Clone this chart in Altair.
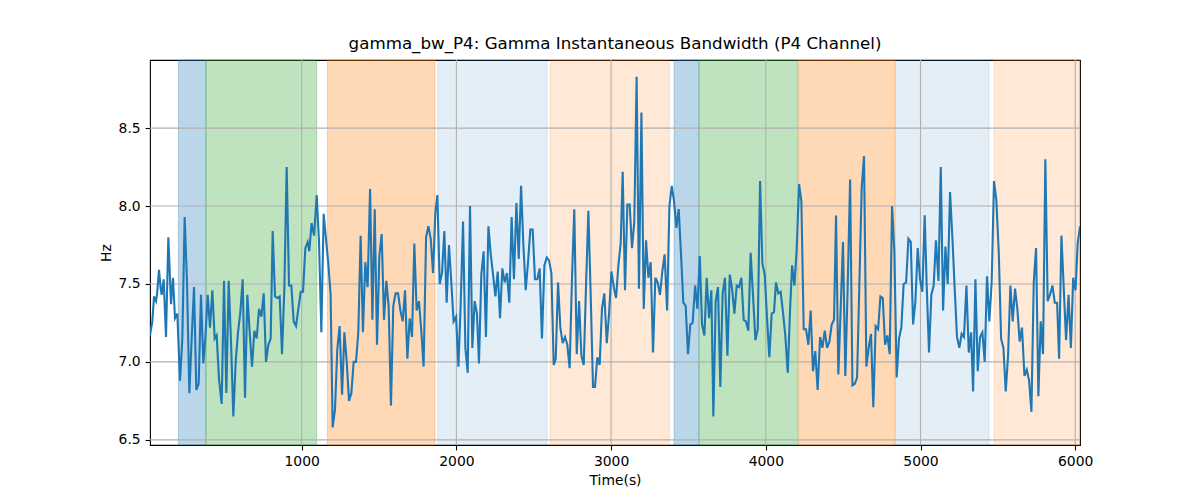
import altair as alt
import pandas as pd

times = [19.4, 34.5, 45.3, 58.2, 64.7, 77.6, 88.4, 94.8, 107.8, 122.8, 137.9, 155.2, 168.1, 181.0, 196.1,
         213.3, 228.4, 243.5, 258.6, 273.7, 288.8, 303.9, 318.9, 334.0, 349.1, 364.2, 377.1, 392.2, 407.3,
         422.4, 437.5, 450.4, 465.5, 482.7, 497.8, 512.9, 528.0, 543.1, 558.1, 573.2, 588.3, 603.4, 618.5,
         633.6, 648.7, 663.7, 678.8, 693.9, 709.0, 724.1, 739.2, 754.3, 769.3, 784.4, 799.5, 812.4, 827.5,
         842.6, 857.7, 872.8, 887.9, 902.9, 918.0, 933.1, 948.2, 963.3, 978.4, 993.5, 1008.5, 1023.6, 1038.7,
         1049, 1064, 1080, 1097, 1112, 1127, 1142, 1157, 1172, 1187, 1200, 1215, 1230, 1245, 1261, 1276, 1291,
         1306, 1321, 1336, 1351, 1366, 1381, 1396, 1411, 1426, 1442, 1457, 1472, 1487, 1502, 1517, 1532, 1547,
         1562, 1577, 1592, 1607, 1623, 1638, 1653, 1668, 1683, 1698, 1713, 1728, 1743, 1758, 1773, 1788, 1804,
         1819, 1834, 1849, 1864, 1877, 1892, 1907, 1922, 1937, 1952, 1967, 1982, 1998, 2013, 2028, 2043,
         2058, 2073, 2088, 2103, 2118, 2133, 2146, 2161, 2176, 2191, 2207, 2222, 2237, 2252, 2267, 2282, 2297,
         2312, 2327, 2342, 2357, 2372, 2388, 2403, 2418, 2433, 2448, 2463, 2478, 2493, 2508, 2523, 2538, 2553,
         2569, 2584, 2599, 2614, 2629, 2642, 2657, 2672, 2687, 2702, 2717, 2732, 2747, 2762, 2778, 2793, 2808,
         2823, 2838, 2853, 2868, 2883, 2896, 2911, 2926, 2941, 2956, 2972, 2987, 3002,
         3019, 3032, 3047, 3062, 3075, 3090, 3105, 3120, 3135, 3150, 3165, 3180, 3196, 3211, 3226, 3241, 3256,
         3271, 3286, 3301, 3316, 3331, 3346, 3362, 3377, 3392, 3407, 3422, 3437, 3452, 3467, 3482, 3497, 3512,
         3527, 3543, 3558, 3573, 3588, 3603, 3618, 3633, 3648, 3661, 3676, 3691, 3706, 3721, 3736, 3752, 3767,
         3782, 3797, 3812, 3827, 3842, 3857, 3872, 3887, 3902, 3917, 3933, 3948, 3963, 3978, 3993, 4008, 4023,
         4038, 4053,
         4066, 4081, 4096, 4111, 4126, 4142, 4157, 4170, 4185, 4200, 4215, 4230, 4245, 4260, 4275, 4290, 4305,
         4320, 4335, 4351, 4366, 4381, 4396, 4411, 4426, 4441, 4454, 4469, 4484, 4499, 4514, 4529, 4545, 4560,
         4575, 4590, 4605, 4620, 4635, 4650, 4665, 4680, 4695, 4710, 4726, 4741, 4756, 4771, 4786, 4801, 4816,
         4831, 4846, 4861, 4876, 4891, 4907, 4922, 4937, 4952, 4967, 4982, 4997, 5012, 5027,
         5040, 5055, 5070, 5085, 5100, 5116, 5131, 5146, 5161, 5176, 5191, 5206, 5221, 5236, 5251, 5266, 5281,
         5297, 5312, 5327, 5340, 5355, 5370, 5385, 5400, 5415, 5430, 5445, 5460, 5475, 5490, 5506, 5521, 5536,
         5551, 5566, 5581, 5596, 5611, 5626, 5641, 5656, 5672, 5687, 5702, 5717, 5732, 5747, 5762, 5777, 5792,
         5807, 5822, 5837, 5853, 5868, 5883, 5896, 5911, 5926, 5941, 5957, 5972, 5987, 6002, 6016, 6031]

values = [7.17, 7.26, 7.42, 7.39, 7.43, 7.59, 7.47, 7.43, 7.53, 7.16, 7.80, 7.37, 7.54, 7.28, 7.31,
          6.88, 7.15, 7.93, 7.51, 6.80, 7.15, 7.48, 6.82, 6.86, 7.43, 6.99, 7.15, 7.43, 7.22,
          7.46, 7.15, 7.17, 6.89, 6.73, 7.52, 6.80, 7.52, 7.13, 6.65, 7.00, 7.19, 7.32, 7.53,
          6.77, 7.43, 7.19, 6.97, 7.20, 7.15, 7.34, 7.29, 7.44, 7.00, 7.11, 7.15, 7.84, 7.42,
          7.41, 7.42, 7.05, 7.47, 8.25, 7.49, 7.49, 7.26, 7.23, 7.34, 7.45, 7.45, 7.73, 7.77,
          7.71, 7.89, 7.81, 8.07, 7.77, 7.19, 7.95, 7.79, 7.63, 7.43, 6.58, 6.69, 7.08, 7.23, 6.79, 7.19, 7.00,
          6.75, 6.80, 7.00, 7.00, 7.19, 7.81, 7.19, 7.64, 7.48, 8.11, 7.27, 7.98, 7.11, 7.68, 7.82, 7.27, 7.52,
          7.36, 6.72, 7.36, 7.44, 7.44, 7.33, 7.26, 7.46, 7.02, 7.28, 7.16, 7.76, 7.33, 7.39, 7.20, 6.97, 7.80,
          7.87, 7.79, 7.57, 7.96, 8.07, 7.50, 7.57, 7.84, 7.38, 7.75, 7.51, 7.26, 7.29, 6.97, 7.38, 7.90,
          7.09, 6.93, 8.00, 7.09, 7.39, 7.31, 6.99, 7.56, 7.71, 7.16, 7.87, 7.69, 7.56, 7.42, 7.58, 7.28, 7.60,
          7.51, 7.57, 7.38, 7.93, 7.53, 8.02, 7.66, 8.13, 7.75, 7.46, 7.64, 7.85, 7.85, 7.53, 7.53, 7.60, 7.15,
          7.62, 7.67, 7.65, 7.57, 6.98, 7.02, 7.51, 7.22, 7.12, 7.16, 7.11, 6.96, 7.53, 7.98, 7.05, 7.39, 7.04,
          6.98, 7.49, 7.97, 7.43, 6.84, 6.84, 7.03, 6.98, 7.34, 7.44, 7.12, 7.31, 7.58,
          7.47, 7.41, 7.62, 7.76, 8.22, 7.46, 8.01, 8.01, 7.73, 7.90, 8.83, 7.47, 8.60, 7.34, 7.78, 7.54, 7.64,
          7.06, 7.54, 7.51, 7.43, 7.58, 7.69, 7.33, 8.00, 8.13, 8.03, 7.86, 7.98, 7.69, 7.38, 7.36, 7.05, 7.24,
          7.25, 7.49, 7.34, 7.68, 7.24, 7.17, 7.54, 7.28, 7.46, 6.65, 7.39, 7.48, 6.84, 7.44, 7.54, 7.04, 7.56,
          7.47, 7.31, 7.49, 7.48, 7.54, 7.27, 7.26, 7.20, 7.70, 7.43, 7.14, 7.21, 8.16, 7.63, 7.56, 7.28, 7.03,
          7.31, 7.32,
          7.51, 7.44, 7.45, 7.32, 7.17, 6.93, 7.34, 7.62, 7.49, 7.73, 8.14, 8.03, 7.21, 7.21, 7.11, 7.33, 6.94,
          7.07, 6.82, 7.16, 7.09, 7.20, 7.09, 7.13, 7.24, 7.27, 7.94, 6.92, 7.34, 7.77, 6.91, 7.47, 8.17, 6.85,
          6.86, 6.90, 7.51, 8.12, 8.32, 6.97, 7.09, 7.18, 6.71, 7.23, 7.21, 7.42, 7.41, 7.11, 7.17, 7.05, 8.00,
          7.71, 6.90, 7.15, 7.22, 7.50, 7.51, 7.79, 7.77, 7.24, 7.39, 7.73, 7.53, 7.45, 7.94,
          7.49, 7.06, 7.43, 7.49, 7.78, 7.52, 8.25, 7.33, 7.74, 7.50, 8.09, 7.80, 7.47, 7.16, 7.09, 7.18, 7.16,
          7.49, 7.06, 7.19, 6.81, 7.53, 6.94, 7.16, 7.19, 7.00, 7.55, 7.26, 7.51, 8.16, 8.04, 7.70, 7.15, 7.09,
          6.81, 7.04, 7.49, 7.26, 7.47, 7.34, 7.13, 7.22, 6.91, 6.95, 6.88, 6.68, 7.51, 7.73, 6.78, 7.26, 7.05,
          8.30, 7.39, 7.43, 7.49, 7.38, 7.38, 7.02, 7.81, 7.47, 7.14, 7.43, 7.09, 7.54, 7.46, 7.76, 7.87]

span_start = [203, 381, 1166, 1879, 2605, 3407, 3568, 4213, 4838, 5475]
span_end = [381, 1097, 1862, 2586, 3377, 3568, 4208, 4835, 5443, 6031]
span_color = ["#1f77b4", "#2ca02c", "#ff7f0e", "#1f77b4", "#ff7f0e",
              "#1f77b4", "#2ca02c", "#ff7f0e", "#1f77b4", "#ff7f0e"]
span_alpha = [0.3, 0.3, 0.3, 0.12, 0.17, 0.3, 0.3, 0.3, 0.12, 0.17]

x_ticks = [1000, 2000, 3000, 4000, 5000, 6000]
y_ticks = [6.5, 7.0, 7.5, 8.0, 8.5]

x_domain = [19.4, 6031]
y_domain = [6.467, 8.937]

n = min(len(times), len(values))
line_df = pd.DataFrame({"t": times[:n], "v": values[:n]})
span_df = pd.DataFrame({"start": span_start, "end": span_end, "color": span_color, "alpha": span_alpha})
xt_df = pd.DataFrame({"xt": x_ticks})
yt_df = pd.DataFrame({"yt": y_ticks})

xs = alt.Scale(domain=x_domain, nice=False, zero=False)
ys = alt.Scale(domain=y_domain, nice=False, zero=False)
xax = alt.Axis(values=x_ticks, format="d", grid=False)
yax = alt.Axis(values=y_ticks, format=".1f", grid=False)

spans = alt.Chart(span_df).mark_rect(strokeWidth=1).encode(
    x=alt.X("start:Q", scale=xs, axis=xax, title="Time(s)"),
    x2="end:Q",
    fill=alt.Fill("color:N", scale=None),
    stroke=alt.Stroke("color:N", scale=None),
    fillOpacity=alt.FillOpacity("alpha:Q", scale=None),
    strokeOpacity=alt.StrokeOpacity("alpha:Q", scale=None),
)

xgrid = alt.Chart(xt_df).mark_rule(color="#b0b0b0", strokeWidth=1.1).encode(
    x=alt.X("xt:Q", scale=xs, axis=xax, title="Time(s)")
)
ygrid = alt.Chart(yt_df).mark_rule(color="#b0b0b0", strokeWidth=1.1).encode(
    y=alt.Y("yt:Q", scale=ys, axis=yax, title="Hz")
)

line = alt.Chart(line_df).mark_line(color="#1f77b4", strokeWidth=2.1, clip=True).encode(
    x=alt.X("t:Q", scale=xs, axis=xax, title="Time(s)"),
    y=alt.Y("v:Q", scale=ys, axis=yax, title="Hz"),
)

chart = alt.layer(spans, xgrid, ygrid, line).properties(
    width=930,
    height=385,
    autosize="none",
    padding={"left": 142, "top": 52, "right": 112, "bottom": 47},
    title=alt.TitleParams(
        "gamma_bw_P4: Gamma Instantaneous Bandwidth (P4 Channel)",
        font="DejaVu Sans", fontSize=16.7, fontWeight="normal", color="black",
        anchor="middle", offset=7,
    ),
).configure_view(
    stroke="black", strokeWidth=1.1
).configure_axis(
    domain=False,
    ticks=True,
    tickSize=4.9,
    tickWidth=1.1,
    tickColor="black",
    labelFont="DejaVu Sans",
    labelFontSize=13.9,
    labelColor="black",
    labelPadding=4.9,
    titleFont="DejaVu Sans",
    titleFontSize=13.9,
    titleFontWeight="normal",
    titleColor="black",
    titlePadding=5,
)

chart.save("out.html", embed_options={"renderer": "svg", "actions": False})
